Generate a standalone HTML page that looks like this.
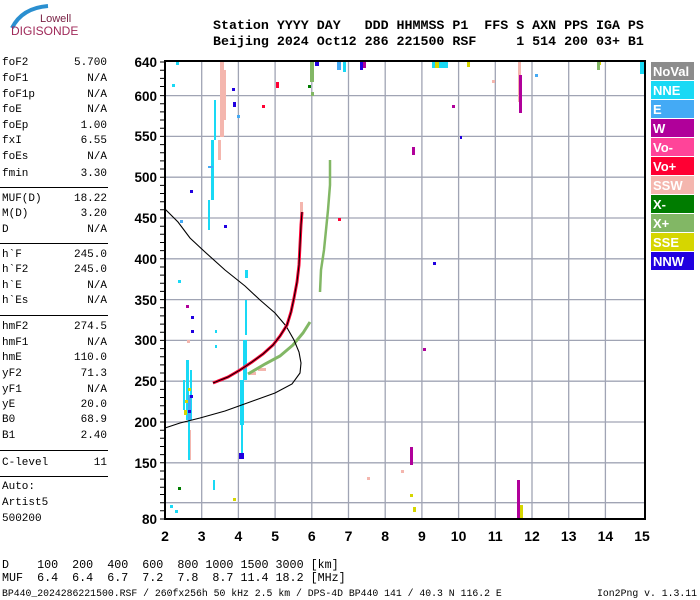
<!DOCTYPE html>
<html><head><meta charset="utf-8"><style>
body{margin:0;width:700px;height:600px;background:#fff;overflow:hidden;position:relative;font-family:"Liberation Mono",monospace}
.t{position:absolute;white-space:pre;font-family:"Liberation Mono",monospace;color:#000}
.l{font-size:11px;left:2px}
.v{font-size:11px;right:593px;text-align:right}
.hr{position:absolute;left:0;width:108px;height:1px;background:#000}
.h{font-size:13.3px;font-weight:bold;left:213px}
.lg{position:absolute;left:651px;width:43px;height:18px;color:#fff;font-family:"Liberation Sans",sans-serif;font-weight:bold;font-size:13px;line-height:19px;padding-left:2px;box-sizing:border-box}
</style></head><body>
<svg width="700" height="600" style="position:absolute;left:0;top:0">
<path d="M12 28 Q22 8 48 6" stroke="#2a8fd0" stroke-width="4" fill="none"/>
<text x="40" y="22" font-family="Liberation Sans,sans-serif" font-size="11" fill="#7a2346">Lowell</text>
<text x="11" y="35" font-family="Liberation Sans,sans-serif" font-size="12" fill="#a02a5a">DIGISONDE</text>
<g stroke="#a0a4b4" stroke-width="1.3">
<line x1="201.7" y1="62" x2="201.7" y2="519"/><line x1="238.4" y1="62" x2="238.4" y2="519"/><line x1="275.1" y1="62" x2="275.1" y2="519"/><line x1="311.8" y1="62" x2="311.8" y2="519"/><line x1="348.5" y1="62" x2="348.5" y2="519"/><line x1="385.2" y1="62" x2="385.2" y2="519"/><line x1="421.9" y1="62" x2="421.9" y2="519"/><line x1="458.6" y1="62" x2="458.6" y2="519"/><line x1="495.3" y1="62" x2="495.3" y2="519"/><line x1="532" y1="62" x2="532" y2="519"/><line x1="568.7" y1="62" x2="568.7" y2="519"/><line x1="605.4" y1="62" x2="605.4" y2="519"/>
<line x1="165" y1="95.6" x2="645" y2="95.6"/><line x1="165" y1="136.4" x2="645" y2="136.4"/><line x1="165" y1="177.2" x2="645" y2="177.2"/><line x1="165" y1="218" x2="645" y2="218"/><line x1="165" y1="258.8" x2="645" y2="258.8"/><line x1="165" y1="299.6" x2="645" y2="299.6"/><line x1="165" y1="340.4" x2="645" y2="340.4"/><line x1="165" y1="381.2" x2="645" y2="381.2"/><line x1="165" y1="422" x2="645" y2="422"/><line x1="165" y1="462.8" x2="645" y2="462.8"/><line x1="165" y1="502.7" x2="645" y2="502.7"/>
</g>
<path stroke="#000" stroke-width="1" d="M160 70.2h5M160 78.4h5M160 86.5h5M160 103.8h5M160 111.9h5M160 120h5M160 128.2h5M160 144.6h5M160 152.7h5M160 160.9h5M160 169h5M160 185.4h5M160 193.5h5M160 201.7h5M160 209.8h5M160 226.2h5M160 234.3h5M160 242.5h5M160 250.6h5M160 267h5M160 275.1h5M160 283.3h5M160 291.4h5M160 307.8h5M160 315.9h5M160 324.1h5M160 332.2h5M160 348.6h5M160 356.7h5M160 364.9h5M160 373h5M160 389.4h5M160 397.5h5M160 405.7h5M160 413.8h5M160 430.2h5M160 438.3h5M160 446.5h5M160 454.6h5M160 471h5M160 479.1h5M160 487.3h5M160 494.5h5M160 510.8h5M160 62h5M160 95.6h5M160 136.4h5M160 177.2h5M160 218h5M160 258.8h5M160 299.6h5M160 340.4h5M160 381.2h5M160 422h5M160 462.8h5M160 502.7h5M160 519h5"/>
<g fill="#f4b6ae">
<rect x="220" y="62" width="4" height="75"/><rect x="224" y="70" width="2" height="50"/><rect x="218" y="140" width="3" height="20"/><rect x="189" y="430" width="2" height="30"/><rect x="518" y="62" width="3" height="40"/><rect x="492" y="80" width="3" height="3"/><rect x="367" y="477" width="3" height="3"/><rect x="401" y="470" width="3" height="3"/><rect x="300" y="202" width="3" height="10"/><rect x="258" y="368" width="8" height="3"/><rect x="250" y="372" width="6" height="3"/><rect x="187" y="340" width="3" height="3"/><rect x="186" y="380" width="3" height="4"/>
</g>
<g fill="#19d9f5">
<rect x="211" y="140" width="3" height="60"/><rect x="214" y="100" width="2" height="40"/><rect x="208" y="200" width="2" height="30"/><rect x="243" y="340" width="4" height="40"/><rect x="240" y="380" width="4" height="45"/><rect x="245" y="300" width="2" height="35"/><rect x="241" y="425" width="2" height="30"/><rect x="186" y="360" width="3" height="60"/><rect x="190" y="370" width="2" height="50"/><rect x="183" y="380" width="2" height="30"/><rect x="188" y="420" width="2" height="40"/><rect x="245" y="270" width="3" height="8"/><rect x="213" y="480" width="2" height="10"/><rect x="175" y="510" width="3" height="3"/><rect x="170" y="505" width="3" height="3"/><rect x="432" y="62" width="16" height="6"/><rect x="640" y="62" width="4" height="12"/><rect x="176" y="62" width="3" height="3"/><rect x="172" y="84" width="3" height="3"/><rect x="178" y="280" width="3" height="3"/><rect x="343" y="62" width="3" height="10"/><rect x="215" y="330" width="2" height="3"/><rect x="215" y="345" width="2" height="3"/>
</g>
<g fill="#44aaf5"><rect x="208" y="166" width="5" height="2"/><rect x="180" y="220" width="3" height="3"/><rect x="535" y="74" width="3" height="3"/><rect x="337" y="62" width="4" height="8"/><rect x="237" y="115" width="3" height="3"/><rect x="188" y="395" width="3" height="25"/></g>
<g fill="#b0009a"><rect x="519" y="75" width="3" height="38"/><rect x="517" y="480" width="3" height="40"/><rect x="410" y="447" width="3" height="18"/><rect x="452" y="105" width="3" height="3"/><rect x="412" y="147" width="3" height="8"/><rect x="361" y="62" width="5" height="6"/><rect x="423" y="348" width="3" height="3"/><rect x="186" y="305" width="3" height="3"/></g>
<g fill="#ff0033"><rect x="276" y="82" width="3" height="6"/><rect x="262" y="105" width="3" height="3"/><rect x="338" y="218" width="3" height="3"/></g>
<g fill="#2000e0"><rect x="232" y="88" width="3" height="3"/><rect x="233" y="102" width="3" height="5"/><rect x="190" y="190" width="3" height="3"/><rect x="224" y="225" width="3" height="3"/><rect x="190" y="395" width="3" height="3"/><rect x="188" y="410" width="3" height="3"/><rect x="239" y="453" width="5" height="6"/><rect x="433" y="262" width="3" height="3"/><rect x="460" y="136" width="2" height="3"/><rect x="315" y="62" width="4" height="4"/><rect x="360" y="62" width="3" height="8"/><rect x="191" y="316" width="3" height="3"/><rect x="191" y="330" width="3" height="3"/></g>
<g fill="#d6d600"><rect x="185" y="400" width="3" height="3"/><rect x="188" y="388" width="3" height="3"/><rect x="184" y="410" width="3" height="5"/><rect x="233" y="498" width="3" height="3"/><rect x="410" y="494" width="3" height="3"/><rect x="413" y="507" width="3" height="5"/><rect x="435" y="62" width="4" height="6"/><rect x="598" y="62" width="3" height="3"/><rect x="520" y="505" width="3" height="14"/><rect x="467" y="62" width="3" height="5"/></g>
<g fill="#007c00"><rect x="178" y="487" width="3" height="3"/><rect x="308" y="85" width="3" height="3"/></g>
<g fill="#82b765">
<polyline points="248,374 265,364 280,356 293,345 303,333 310,322" fill="none" stroke="#82b765" stroke-width="3"/>
<polyline points="320,292 321,270 324,250 326,230 328,210 330,185 330,160" fill="none" stroke="#82b765" stroke-width="2.5"/>
<rect x="310" y="62" width="4" height="20"/><rect x="597" y="62" width="3" height="8"/><rect x="311" y="92" width="3" height="4"/>
</g>
<polyline points="165,209 178,222 190,238 205,252 225,270 245,286 260,300 275,313 286,326 294,340 299,352 301,363 300,373 292,384 275,393 250,402 225,411 200,418 180,423 165,428" fill="none" stroke="#000" stroke-width="1.1"/>
<polyline points="213,383 228,377 240,370 252,362 263,354 273,345 280,336 287,325 291,312 294,298 297,282 299,265 300,245 301,225 302,212" fill="none" stroke="#ff0033" stroke-width="3"/>
<polyline points="213,383 228,377 240,370 252,362 263,354 273,345 280,336 287,325 291,312 294,298 297,282 299,265 300,245 301,225 302,212" fill="none" stroke="#000" stroke-width="1"/>
<rect x="165" y="61" width="480" height="458" fill="none" stroke="#000" stroke-width="2"/>
<g font-family="Liberation Sans,sans-serif" font-weight="bold" font-size="13.5" text-anchor="end">
<text x="157" y="67">640</text><text x="157" y="101">600</text><text x="157" y="141">550</text><text x="157" y="182">500</text><text x="157" y="223">450</text><text x="157" y="264">400</text><text x="157" y="305">350</text><text x="157" y="345">300</text><text x="157" y="386">250</text><text x="157" y="427">200</text><text x="157" y="468">150</text><text x="157" y="524">80</text>
</g>
<g font-family="Liberation Sans,sans-serif" font-weight="bold" font-size="14" text-anchor="middle">
<text x="165" y="541">2</text><text x="201.7" y="541">3</text><text x="238.4" y="541">4</text><text x="275.1" y="541">5</text><text x="311.8" y="541">6</text><text x="348.5" y="541">7</text><text x="385.2" y="541">8</text><text x="421.9" y="541">9</text><text x="458.6" y="541">10</text><text x="495.3" y="541">11</text><text x="532" y="541">12</text><text x="568.7" y="541">13</text><text x="605.4" y="541">14</text><text x="642" y="541">15</text>
</g>
</svg>
<div class="t h" style="top:18px">Station YYYY DAY   DDD HHMMSS P1  FFS S AXN PPS IGA PS</div>
<div class="t h" style="top:34px">Beijing 2024 Oct12 286 221500 RSF     1 514 200 03+ B1</div>
<div class="t l" style="top:57px">foF2</div><div class="t v" style="top:57px">5.700</div>
<div class="t l" style="top:73px">foF1</div><div class="t v" style="top:73px">N/A</div>
<div class="t l" style="top:89px">foF1p</div><div class="t v" style="top:89px">N/A</div>
<div class="t l" style="top:104px">foE</div><div class="t v" style="top:104px">N/A</div>
<div class="t l" style="top:120px">foEp</div><div class="t v" style="top:120px">1.00</div>
<div class="t l" style="top:135px">fxI</div><div class="t v" style="top:135px">6.55</div>
<div class="t l" style="top:151px">foEs</div><div class="t v" style="top:151px">N/A</div>
<div class="t l" style="top:168px">fmin</div><div class="t v" style="top:168px">3.30</div>
<div class="hr" style="top:187px"></div>
<div class="t l" style="top:193px">MUF(D)</div><div class="t v" style="top:193px">18.22</div>
<div class="t l" style="top:208px">M(D)</div><div class="t v" style="top:208px">3.20</div>
<div class="t l" style="top:224px">D</div><div class="t v" style="top:224px">N/A</div>
<div class="hr" style="top:243px"></div>
<div class="t l" style="top:249px">h`F</div><div class="t v" style="top:249px">245.0</div>
<div class="t l" style="top:264px">h`F2</div><div class="t v" style="top:264px">245.0</div>
<div class="t l" style="top:280px">h`E</div><div class="t v" style="top:280px">N/A</div>
<div class="t l" style="top:295px">h`Es</div><div class="t v" style="top:295px">N/A</div>
<div class="hr" style="top:315px"></div>
<div class="t l" style="top:321px">hmF2</div><div class="t v" style="top:321px">274.5</div>
<div class="t l" style="top:337px">hmF1</div><div class="t v" style="top:337px">N/A</div>
<div class="t l" style="top:352px">hmE</div><div class="t v" style="top:352px">110.0</div>
<div class="t l" style="top:368px">yF2</div><div class="t v" style="top:368px">71.3</div>
<div class="t l" style="top:384px">yF1</div><div class="t v" style="top:384px">N/A</div>
<div class="t l" style="top:399px">yE</div><div class="t v" style="top:399px">20.0</div>
<div class="t l" style="top:414px">B0</div><div class="t v" style="top:414px">68.9</div>
<div class="t l" style="top:430px">B1</div><div class="t v" style="top:430px">2.40</div>
<div class="hr" style="top:450px"></div>
<div class="t l" style="top:457px">C-level</div><div class="t v" style="top:457px">11</div>
<div class="hr" style="top:476px"></div>
<div class="t l" style="top:481px">Auto:</div>
<div class="t l" style="top:497px">Artist5</div>
<div class="t l" style="top:513px">500200</div>
<div class="t" style="top:558px;left:2px;font-size:11.7px">D    100  200  400  600  800 1000 1500 3000 [km]</div>
<div class="t" style="top:571px;left:2px;font-size:11.7px">MUF  6.4  6.4  6.7  7.2  7.8  8.7 11.4 18.2 [MHz]</div>
<div class="t" style="top:588px;left:2px;font-size:9.8px">BP440_2024286221500.RSF / 260fx256h 50 kHz 2.5 km / DPS-4D BP440 141 / 40.3 N 116.2 E</div>
<div class="t" style="top:588px;right:3px;font-size:9.8px">Ion2Png v. 1.3.11</div>
<div class="lg" style="top:62px;background:#8c8c8c">NoVal</div>
<div class="lg" style="top:81px;background:#19d9f5">NNE</div>
<div class="lg" style="top:100px;background:#44aaf5">E</div>
<div class="lg" style="top:119px;background:#b0009a">W</div>
<div class="lg" style="top:138px;background:#ff4499">Vo-</div>
<div class="lg" style="top:157px;background:#ff0033">Vo+</div>
<div class="lg" style="top:176px;background:#f4b6ae">SSW</div>
<div class="lg" style="top:195px;background:#007c00">X-</div>
<div class="lg" style="top:214px;background:#82b765">X+</div>
<div class="lg" style="top:233px;background:#d6d600">SSE</div>
<div class="lg" style="top:252px;background:#2000e0">NNW</div>
</body></html>
